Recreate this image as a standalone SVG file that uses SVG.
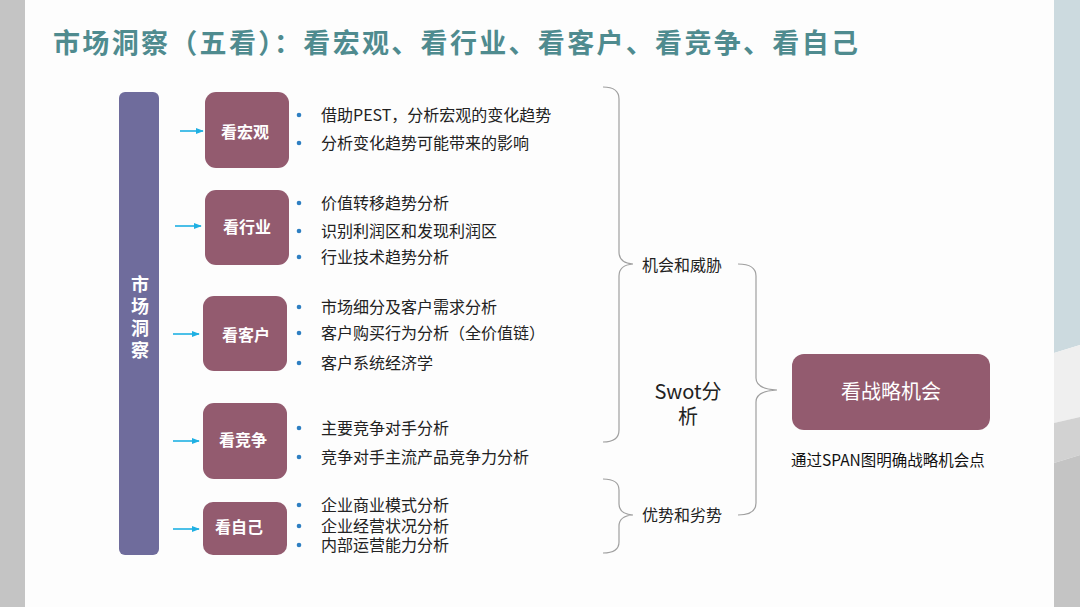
<svg xmlns="http://www.w3.org/2000/svg" width="1080" height="607" viewBox="0 0 1080 607">
<defs>
<style>
.t{font-family:"Noto Sans CJK SC","Noto Sans",sans-serif;}
.title{font-size:27px;font-weight:bold;fill:#4f8b8f;}
.box{fill:#935b6f;}
.bl{font-size:16px;font-weight:bold;fill:#ffffff;text-anchor:middle;}
.item{font-size:16px;fill:#222222;}
.dot{fill:#2e7fc2;}
.arr{stroke:#1fb0e3;stroke-width:1.6;fill:none;marker-end:url(#ah);}
.brace{stroke:#a0a0a0;stroke-width:1.2;fill:none;}
.lab{font-size:16px;fill:#222222;}
</style>
<marker id="ah" viewBox="0 0 10 10" refX="9" refY="5" markerWidth="5" markerHeight="5" orient="auto" markerUnits="strokeWidth"><path d="M0,1 L10,5 L0,9 z" fill="#1fb0e3"/></marker>
</defs>
<rect x="0" y="0" width="1080" height="607" fill="#fdfdfd"/>
<rect x="0" y="0" width="25" height="607" fill="#c4c4c4"/>
<polygon points="1054,0 1080,0 1080,345 1054,353" fill="#ccdadf"/>
<polygon points="1054,353 1080,345 1080,417 1054,423" fill="#efefef"/>
<polygon points="1054,423 1080,417 1080,455 1054,463" fill="#d2d2d2"/>
<polygon points="1054,463 1080,455 1080,607 1054,607" fill="#c4c4c4"/>

<text class="t title" x="53" y="53" textLength="805" lengthAdjust="spacing">市场洞察（五看）：看宏观、看行业、看客户、看竞争、看自己</text>

<g id="market">
<rect x="119" y="92" width="40" height="463" rx="6" fill="#6f6c9c"/>
<text class="t" x="140" y="275" font-size="18" font-weight="bold" fill="#ffffff" writing-mode="vertical-rl" letter-spacing="4">市场洞察</text>
</g>

<g id="connectors">
<line class="arr" x1="180" y1="131" x2="203" y2="131"/>
<line class="arr" x1="175" y1="226" x2="201" y2="226"/>
<line class="arr" x1="173" y1="334" x2="199" y2="334"/>
<line class="arr" x1="173" y1="441" x2="199" y2="441"/>
<line class="arr" x1="173" y1="529" x2="199" y2="529"/>
<path class="brace" d="M603,87 Q619,87 619,99 L619,252 Q619,263 633,264 Q619,265 619,276 L619,430 Q619,442 603,442"/>
<path class="brace" d="M603,479 Q619,479 619,490 L619,504 Q619,514 633,515 Q619,516 619,526 L619,542 Q619,553 603,553"/>
<path class="brace" d="M738,264 Q756,264 756,276 L756,378 Q756,389 777,390 Q756,391 756,402 L756,503 Q756,515 738,515"/>
</g>

<g id="macro">
<rect class="box" x="205" y="92" width="84" height="76" rx="11"/>
<text class="t bl" x="245" y="138">看宏观</text>
<circle class="dot" cx="299" cy="115" r="2.3"/>
<circle class="dot" cx="299" cy="143" r="2.3"/>
<text class="t item" x="321" y="121">借助PEST，分析宏观的变化趋势</text>
<text class="t item" x="321" y="149">分析变化趋势可能带来的影响</text>
</g>

<g id="industry">
<rect class="box" x="205" y="190" width="84" height="75" rx="11"/>
<text class="t bl" x="247" y="233">看行业</text>
<circle class="dot" cx="299" cy="203" r="2.3"/>
<circle class="dot" cx="299" cy="231" r="2.3"/>
<circle class="dot" cx="299" cy="257" r="2.3"/>
<text class="t item" x="321" y="209">价值转移趋势分析</text>
<text class="t item" x="321" y="237">识别利润区和发现利润区</text>
<text class="t item" x="321" y="263">行业技术趋势分析</text>
</g>

<g id="customer">
<rect class="box" x="203" y="296" width="84" height="75" rx="11"/>
<text class="t bl" x="246" y="341">看客户</text>
<circle class="dot" cx="299" cy="307" r="2.3"/>
<circle class="dot" cx="299" cy="333" r="2.3"/>
<circle class="dot" cx="299" cy="363" r="2.3"/>
<text class="t item" x="321" y="313">市场细分及客户需求分析</text>
<text class="t item" x="321" y="339">客户购买行为分析（全价值链）</text>
<text class="t item" x="321" y="369">客户系统经济学</text>
</g>

<g id="competition">
<rect class="box" x="203" y="403" width="84" height="76" rx="11"/>
<text class="t bl" x="243" y="446">看竞争</text>
<circle class="dot" cx="299" cy="428" r="2.3"/>
<circle class="dot" cx="299" cy="457" r="2.3"/>
<text class="t item" x="321" y="434">主要竞争对手分析</text>
<text class="t item" x="321" y="463">竞争对手主流产品竞争力分析</text>
</g>

<g id="self">
<rect class="box" x="203" y="502" width="84" height="53" rx="10"/>
<text class="t bl" x="239" y="533">看自己</text>
<circle class="dot" cx="299" cy="505" r="2.3"/>
<circle class="dot" cx="299" cy="526" r="2.3"/>
<circle class="dot" cx="299" cy="545" r="2.3"/>
<text class="t item" x="321" y="511">企业商业模式分析<tspan x="321" y="532">企业经营状况分析</tspan><tspan x="321" y="551">内部运营能力分析</tspan></text>
</g>

<g id="labels">
<text class="t lab" x="642" y="271">机会和威胁</text>
<text class="t lab" x="642" y="521">优势和劣势</text>
<text class="t" font-size="20" fill="#222222" text-anchor="middle" x="688" y="399">Swot分<tspan x="688" y="424">析</tspan></text>
</g>

<g id="strategy">
<rect class="box" x="792" y="354" width="198" height="76" rx="12"/>
<text class="t" font-size="20" fill="#ffffff" text-anchor="middle" x="891" y="399">看战略机会</text>
<text class="t" font-size="15.5" fill="#111111" x="791" y="466">通过SPAN图明确战略机会点</text>
</g>
</svg>
